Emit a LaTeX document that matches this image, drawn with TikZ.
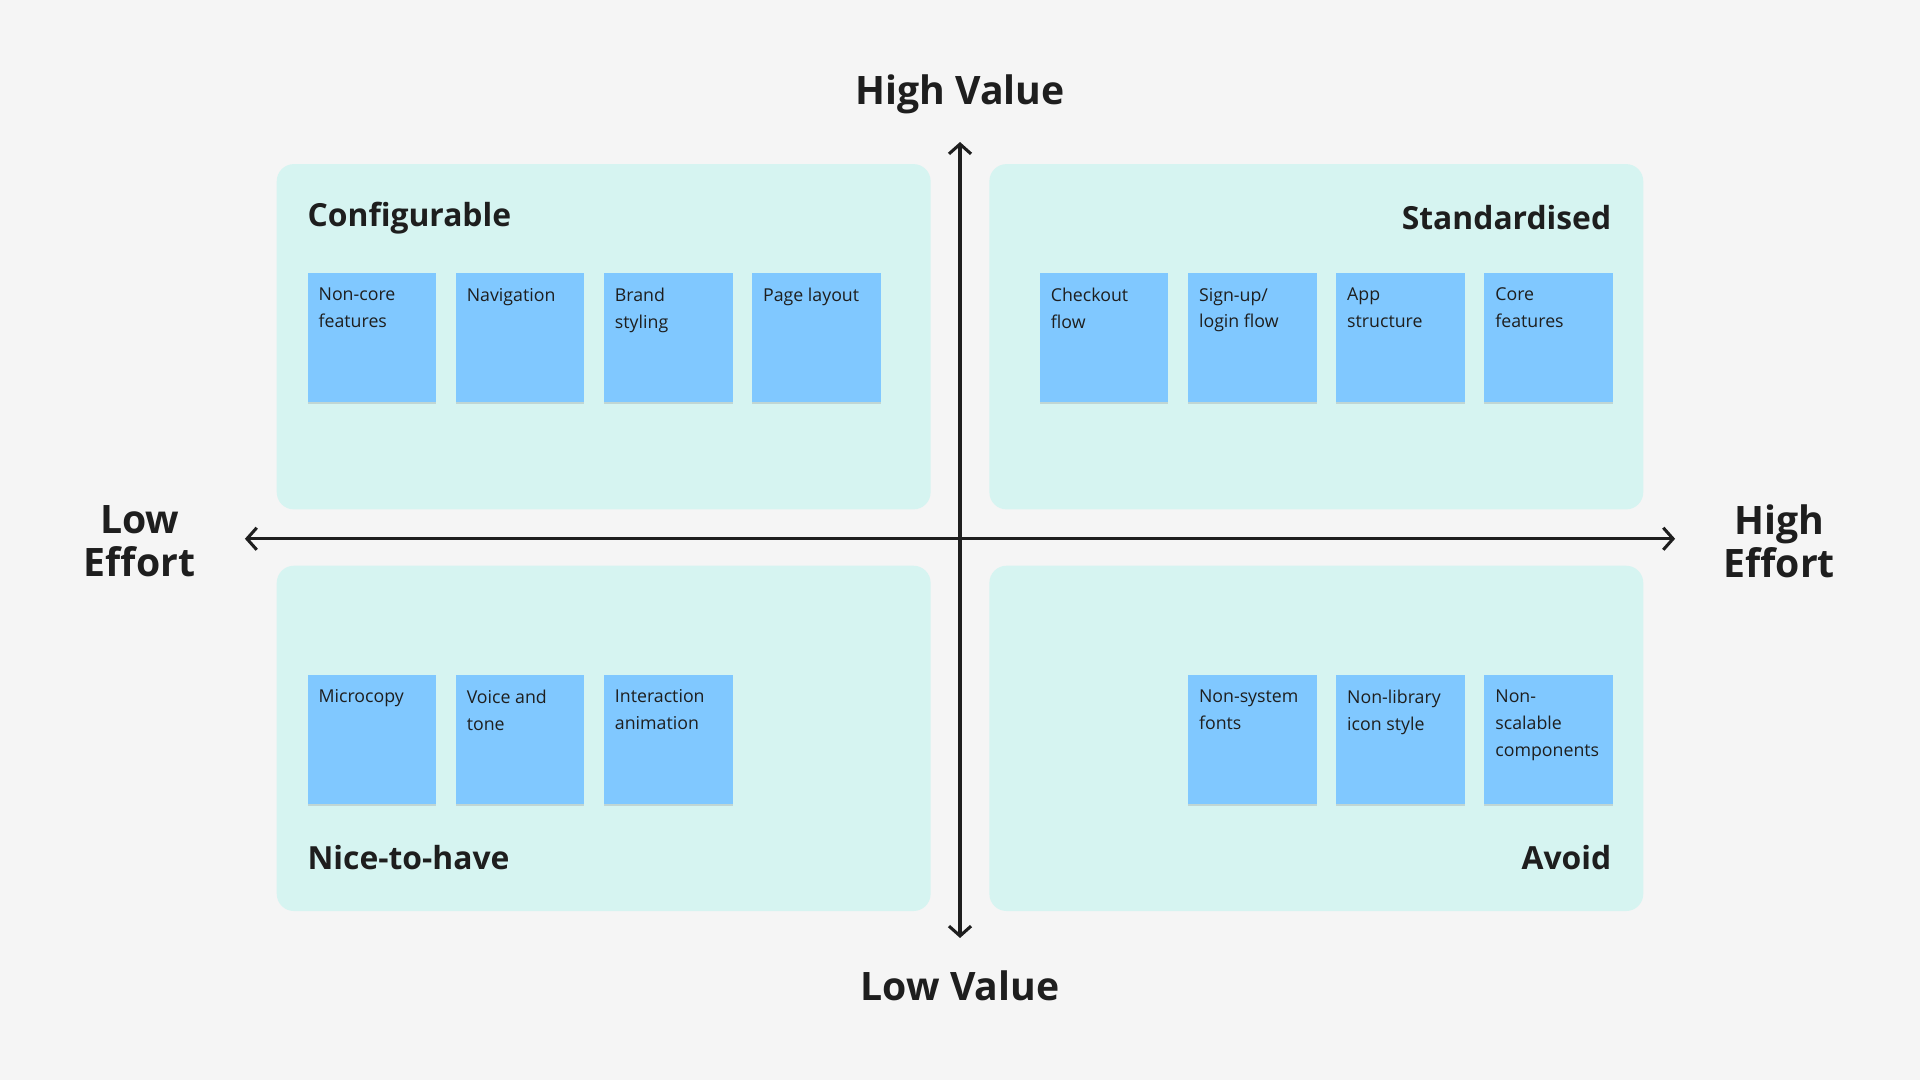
\documentclass[tikz,border=0pt]{standalone}
\usepackage{fontspec}
\setmainfont{Open Sans}
\usetikzlibrary{arrows.meta,shadows}
\definecolor{bg}{HTML}{F5F5F5}
\definecolor{quad}{HTML}{D6F4F1}
\definecolor{sticky}{HTML}{80C8FF}
\definecolor{ink}{HTML}{1E1E1E}
\begin{document}
\begin{tikzpicture}[x=1pt,y=-1pt,
  quadr/.style={fill=quad,rounded corners=14pt,draw=none},
  note/.style={fill=sticky,draw=none,minimum width=105pt,minimum height=105pt,inner sep=0,anchor=north west,
    drop shadow={shadow xshift=0pt,shadow yshift=-2pt,opacity=0.25}},
  ntext/.style={anchor=north west,inner sep=0,xshift=9pt,yshift=-12pt,align=left,text=ink,font=\fontsize{14.5}{22}\selectfont},
  qtitle/.style={inner sep=0,text=ink,font=\fontsize{26}{30}\selectfont\bfseries},
  axlab/.style={inner sep=0,text=ink,align=center,font=\fontsize{32}{35}\selectfont\bfseries},
  axis/.style={line width=2.5pt,draw=ink,-{Straight Barb[length=8pt,width=18pt,line width=2.5pt]}}]
\fill[bg] (0,0) rectangle (1568,882);
\useasboundingbox (0,0) rectangle (1568,882);
\fill[quadr] (226,134) rectangle (760,416);
\fill[quadr] (808,134) rectangle (1342,416);
\fill[quadr] (226,462) rectangle (760,744);
\fill[quadr] (808,462) rectangle (1342,744);
\coordinate (vt) at (784,116); \coordinate (vb) at (784,766);
\coordinate (hl) at (200,440); \coordinate (hr) at (1368,440);
\coordinate (c) at (784,440);
\draw[axis] (c) -- (vt); \draw[axis] (c) -- (vb);
\draw[axis] (c) -- (hl); \draw[axis] (c) -- (hr);
\node[axlab] (hv) at (784,77) {High Value};
\node[axlab] (lv) at (784,805) {Low Value};
\node[axlab] (le) at (114,442) {Low\\Effort};
\node[axlab] (he) at (1453,442) {High\\Effort};
\node[qtitle,anchor=west] (q1) at (251,178) {Configurable};
\node[qtitle,anchor=east] (q2) at (1316,178) {Standardised};
\node[qtitle,anchor=west] (q3) at (251,700) {Nice-to-have};
\node[qtitle,anchor=east] (q4) at (1316,700) {Avoid};
\node[note] (a1) at (251,223) {}; \node[ntext] at (a1.north west) {Non-core\\features};
\node[note] (a2) at (372,223) {}; \node[ntext] at (a2.north west) {Navigation};
\node[note] (a3) at (493,223) {}; \node[ntext] at (a3.north west) {Brand\\styling};
\node[note] (a4) at (614,223) {}; \node[ntext] at (a4.north west) {Page layout};
\node[note] (b1) at (849,223) {}; \node[ntext] at (b1.north west) {Checkout\\flow};
\node[note] (b2) at (970,223) {}; \node[ntext] at (b2.north west) {Sign-up/\\login flow};
\node[note] (b3) at (1091,223) {}; \node[ntext] at (b3.north west) {App\\structure};
\node[note] (b4) at (1212,223) {}; \node[ntext] at (b4.north west) {Core\\features};
\node[note] (c1) at (251,551) {}; \node[ntext] at (c1.north west) {Microcopy};
\node[note] (c2) at (372,551) {}; \node[ntext] at (c2.north west) {Voice and\\tone};
\node[note] (c3) at (493,551) {}; \node[ntext] at (c3.north west) {Interaction\\animation};
\node[note] (d1) at (970,551) {}; \node[ntext] at (d1.north west) {Non-system\\fonts};
\node[note] (d2) at (1091,551) {}; \node[ntext] at (d2.north west) {Non-library\\icon style};
\node[note] (d3) at (1212,551) {}; \node[ntext] at (d3.north west) {Non-\\scalable\\components};
\end{tikzpicture}
\end{document}
